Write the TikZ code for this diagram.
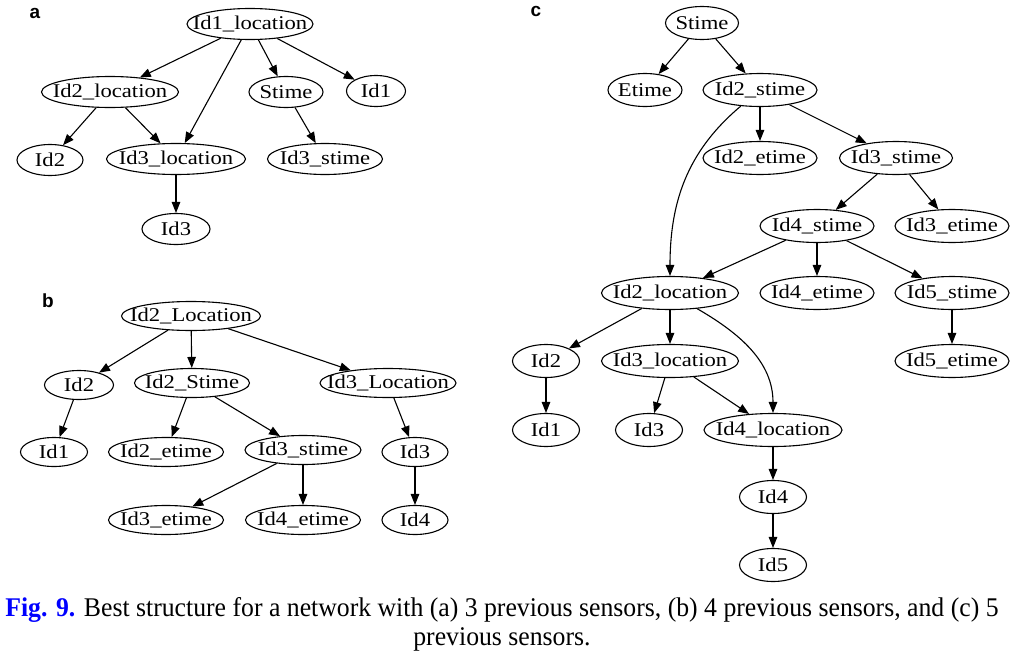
\documentclass[tikz,border=0pt]{standalone}
\usepackage{fontspec}
\setmainfont{Liberation Serif}
\newfontfamily\nodefont[FakeStretch=1.16]{Liberation Serif}
\newfontfamily\capfont[FakeStretch=0.953]{Liberation Serif}
\newfontfamily\lblfont{Liberation Sans}
\usetikzlibrary{arrows.meta,shapes.geometric}
\newcommand\ellnode[5][]{\node[bn,minimum width=#4pt,#1] (#2) at (#3) {\makebox[0pt]{#5}};}
\begin{document}
\begin{tikzpicture}[x=1pt,y=-1pt,
  bn/.style={ellipse,draw,line width=1.1pt,inner sep=0pt,minimum height=31pt,
    font=\nodefont\fontsize{19.5}{20}\selectfont},
  ed/.style={-{Triangle[length=11pt,width=8.5pt]},line width=1.1pt},
  pl/.style={font=\lblfont\bfseries\fontsize{19}{19}\selectfont,inner sep=0pt},
  hb/.style={minimum height=29pt},
  hc/.style={minimum height=33pt}]
\fill[white] (0,0) rectangle (1026,653);
\useasboundingbox (0,0) rectangle (1026,653);
% panel labels
\node[pl] (la) at (35,13) {a};
\node[pl] (lb) at (48,301) {b};
\node[pl] (lc) at (536,11) {c};
% panel a
\ellnode{a1loc}{250,24}{126}{Id1\_location}
\ellnode{a2loc}{110,92}{137}{Id2\_location}
\ellnode{astime}{286,92}{74}{Stime}
\ellnode{aid1}{376,91}{59}{Id1}
\ellnode{aid2}{50,160}{66}{Id2}
\ellnode{a3loc}{176,159}{139}{Id3\_location}
\ellnode{a3st}{325,159}{115}{Id3\_stime}
\ellnode{aid3}{176,229}{68}{Id3}
\draw[ed] (a1loc) -- (a2loc);
\draw[ed] (a1loc) -- (a3loc);
\draw[ed] (a1loc) -- (astime);
\draw[ed] (a1loc) -- (aid1);
\draw[ed] (a2loc) -- (aid2);
\draw[ed] (a2loc) -- (a3loc);
\draw[ed] (astime) -- (a3st);
\draw[ed] (a3loc) -- (aid3);
% panel b
\ellnode[hb]{b2loc}{191,316}{139}{Id2\_Location}
\ellnode[hb]{bid2}{79,385}{69}{Id2}
\ellnode[hb]{b2st}{192,383}{115}{Id2\_Stime}
\ellnode[hb]{b3loc}{388,383}{136}{Id3\_Location}
\ellnode[hb]{bid1}{54,452}{67}{Id1}
\ellnode[hb]{b2et}{166,452}{115}{Id2\_etime}
\ellnode[hb]{b3st}{303,450}{116}{Id3\_stime}
\ellnode[hb]{bid3}{415,452}{66}{Id3}
\ellnode[hb]{b3et}{166,520}{115}{Id3\_etime}
\ellnode[hb]{b4et}{303,520}{115}{Id4\_etime}
\ellnode[hb]{bid4}{415,520}{66}{Id4}
\draw[ed] (b2loc) -- (bid2);
\draw[ed] (b2loc) -- (b2st);
\draw[ed] (b2loc) -- (b3loc);
\draw[ed] (bid2) -- (bid1);
\draw[ed] (b2st) -- (b2et);
\draw[ed] (b2st) -- (b3st);
\draw[ed] (b3st) -- (b3et);
\draw[ed] (b3st) -- (b4et);
\draw[ed] (b3loc) -- (bid3);
\draw[ed] (bid3) -- (bid4);
% panel c
\ellnode[hc]{cst}{702,23}{73}{Stime}
\ellnode[hc]{cet}{645,90}{74}{Etime}
\ellnode[hc]{c2st}{760,90}{114}{Id2\_stime}
\ellnode[hc]{c2et}{760,158}{114}{Id2\_etime}
\ellnode[hc]{c3st}{896,158}{113}{Id3\_stime}
\ellnode[hc]{c4st}{817,226}{114}{Id4\_stime}
\ellnode[hc]{c3et}{952,226}{114}{Id3\_etime}
\ellnode[hc]{c2loc}{670,293}{137}{Id2\_location}
\ellnode[hc]{c4et}{817,293}{114}{Id4\_etime}
\ellnode[hc]{c5st}{952,293}{114}{Id5\_stime}
\ellnode[hc]{cid2}{546,361}{67}{Id2}
\ellnode[hc]{c3loc}{670,361}{137}{Id3\_location}
\ellnode[hc]{c5et}{952,361}{114}{Id5\_etime}
\ellnode[hc]{cid1}{546,430}{67}{Id1}
\ellnode[hc]{cid3}{649,430}{67}{Id3}
\ellnode[hc]{c4loc}{773,430}{138}{Id4\_location}
\ellnode[hc]{cid4}{773,497}{67}{Id4}
\ellnode[hc]{cid5}{773,565}{67}{Id5}
\draw[ed] (cst) -- (cet);
\draw[ed] (cst) -- (c2st);
\draw[ed] (c2st) to[out=-140,in=90] (c2loc);
\draw[ed] (c2st) -- (c2et);
\draw[ed] (c2st) -- (c3st);
\draw[ed] (c3st) -- (c4st);
\draw[ed] (c3st) -- (c3et);
\draw[ed] (c4st) -- (c2loc);
\draw[ed] (c4st) -- (c4et);
\draw[ed] (c4st) -- (c5st);
\draw[ed] (c5st) -- (c5et);
\draw[ed] (c2loc) -- (cid2);
\draw[ed] (c2loc) -- (c3loc);
\draw[ed] (c2loc) to[out=-30,in=90] (c4loc);
\draw[ed] (cid2) -- (cid1);
\draw[ed] (c3loc) -- (cid3);
\draw[ed] (c3loc) -- (c4loc);
\draw[ed] (c4loc) -- (cid4);
\draw[ed] (cid4) -- (cid5);
% caption
\node[align=center,inner sep=0pt,font=\capfont\fontsize{27}{29}\selectfont] (cap) at (502,624)
  {{\bfseries\color{blue}Fig. 9.} Best structure for a network with (a) 3 previous sensors, (b) 4 previous sensors, and (c) 5\\previous sensors.};
\end{tikzpicture}
\end{document}
